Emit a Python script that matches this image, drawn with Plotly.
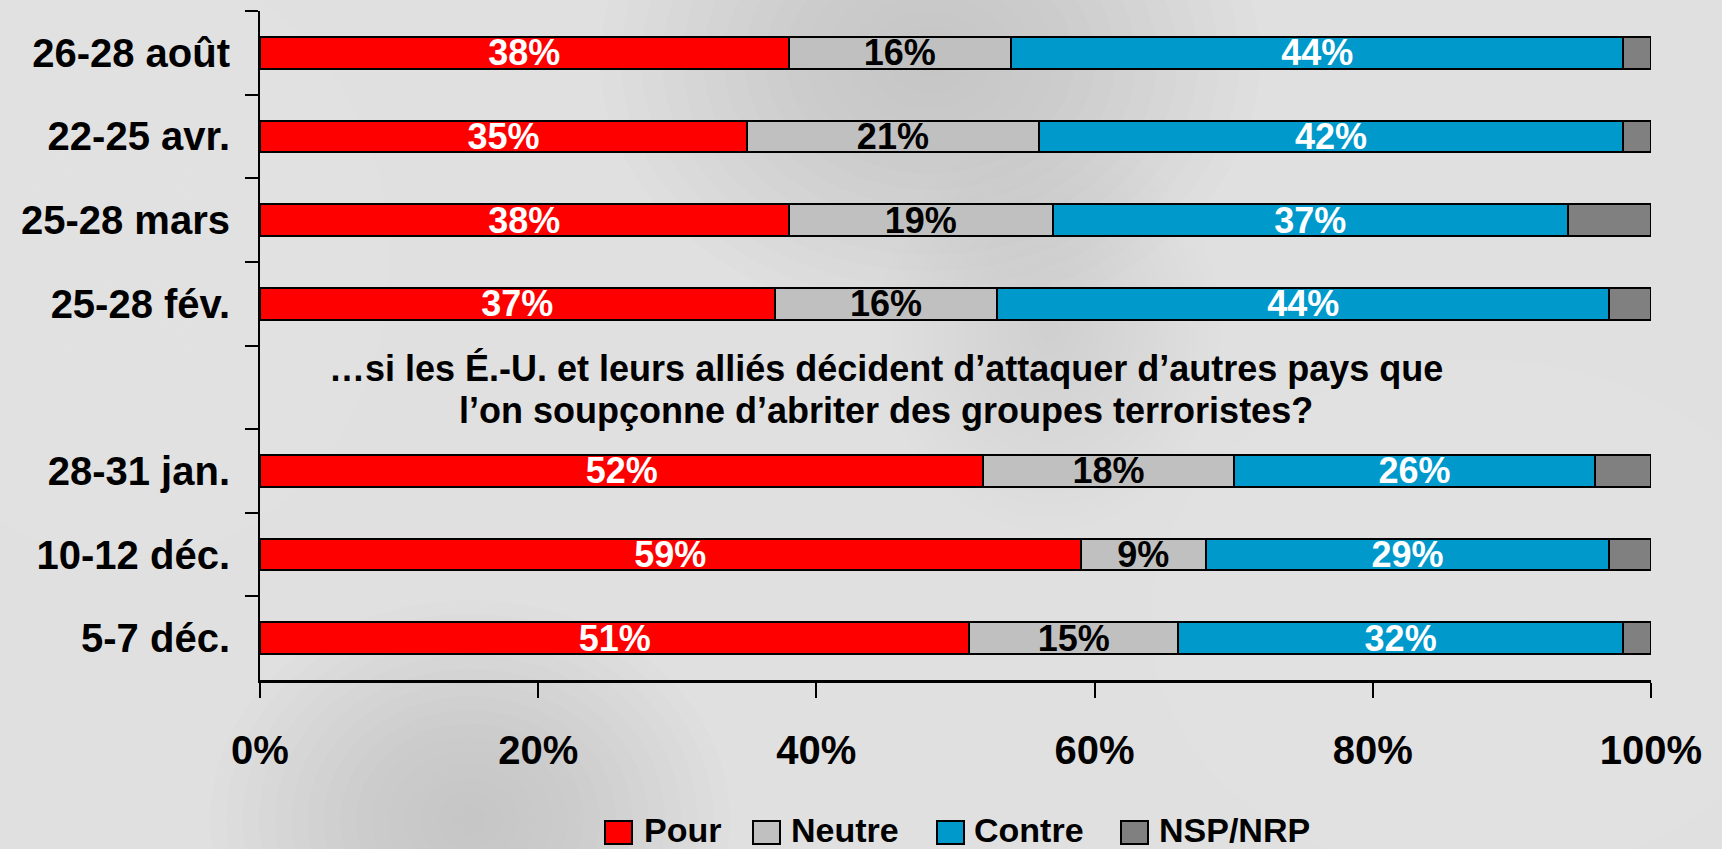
import plotly.graph_objects as go

# Survey waves, top to bottom (the blank row holds the question text)
periods = ["26-28 août", "22-25 avr.", "25-28 mars", "25-28 fév.", " ",
           "28-31 jan.", "10-12 déc.", "5-7 déc."]
pour = [38, 35, 38, 37, None, 52, 59, 51]
neutre = [16, 21, 19, 16, None, 18, 9, 15]
contre = [44, 42, 37, 44, None, 26, 29, 32]
nsp = [2, 2, 6, 3, None, 4, 3, 2]

series_names = ["Pour", "Neutre", "Contre", "NSP/NRP"]
series_values = [pour, neutre, contre, nsp]
series_colors = ["#FF0000", "#C0C0C0", "#0099CC", "#808080"]
label_colors = ["white", "black", "white", None]

x_ticks = [0, 20, 40, 60, 80, 100]
x_tick_text = ["0%", "20%", "40%", "60%", "80%", "100%"]

question_lines = [
    "…si les É.-U. et leurs alliés décident d’attaquer d’autres pays que",
    "l’on soupçonne d’abriter des groupes terroristes?",
]

FONT = "Liberation Sans, Arial, sans-serif"
W, H = 1722, 849
ML, MR, MT, MB = 260, 71, 11, 169

fig = go.Figure()
for name, vals, col, lcol in zip(series_names, series_values, series_colors, label_colors):
    text = [f"{v}%" if (v is not None and lcol) else "" for v in vals]
    fig.add_trace(go.Bar(
        y=periods, x=vals, orientation="h", name=name,
        marker=dict(color=col, line=dict(color="black", width=2)),
        text=text, textposition="inside", insidetextanchor="middle",
        textangle=0, constraintext="none",
        textfont=dict(family=FONT, size=36, color=lcol or "black", weight="bold"),
        showlegend=False, hoverinfo="skip",
    ))

# Question text sitting in the empty row between the two groups
for line, shift in zip(question_lines, [19, -23]):
    fig.add_annotation(
        x=45, y=" ", xref="x", yref="y", text=line, showarrow=False,
        yshift=shift, font=dict(family=FONT, size=36, color="black", weight="bold"),
    )

plot_w = W - ML - MR
plot_h = H - MT - MB


def px_to_paper_x(px):
    return (px - ML) / plot_w


def px_to_paper_y(py):
    return (H - MB - py) / plot_h


# Hand-drawn legend row below the axis
legend_boxes = [605, 753, 937, 1121]
legend_text_x = [642, 789, 972, 1157]
box_w, box_top, box_bot = 27, 821, 844
for name, col, bx, tx in zip(series_names, series_colors, legend_boxes, legend_text_x):
    fig.add_shape(
        type="rect", xref="paper", yref="paper",
        x0=px_to_paper_x(bx), x1=px_to_paper_x(bx + box_w),
        y0=px_to_paper_y(box_bot), y1=px_to_paper_y(box_top),
        fillcolor=col, line=dict(color="black", width=2),
    )
    fig.add_annotation(
        x=px_to_paper_x(tx), y=px_to_paper_y(830), xref="paper", yref="paper",
        xanchor="left", yanchor="middle", text=name, showarrow=False,
        font=dict(family=FONT, size=34, color="black", weight="bold"),
    )


# Soft swirls in the backdrop: stacked translucent ellipses fade at the edges
def soft_blob(cx, cy, rx, ry, rgb, alpha, steps=16):
    for i in range(steps):
        f = 1 - i / steps
        fig.add_shape(
            type="circle", xref="paper", yref="paper", layer="below",
            x0=px_to_paper_x(cx - rx * f), x1=px_to_paper_x(cx + rx * f),
            y0=px_to_paper_y(cy + ry * f), y1=px_to_paper_y(cy - ry * f),
            fillcolor=f"rgba({rgb},{alpha})", line=dict(width=0),
        )


soft_blob(930, 60, 330, 260, "175,175,175", 0.018)
soft_blob(1050, 330, 170, 200, "170,170,170", 0.014)
soft_blob(470, 820, 260, 220, "175,175,175", 0.018)
soft_blob(130, 260, 260, 300, "255,255,255", 0.03)
soft_blob(1480, 620, 330, 260, "255,255,255", 0.03)
soft_blob(700, 420, 260, 140, "255,255,255", 0.022)

fig.update_layout(
    width=W, height=H,
    margin=dict(l=ML, r=MR, t=MT, b=MB),
    barmode="stack", bargap=0.62,
    paper_bgcolor="#e0e0e0", plot_bgcolor="rgba(0,0,0,0)",
    showlegend=False,
    xaxis=dict(
        range=[0, 100], tickvals=x_ticks, ticktext=x_tick_text,
        showgrid=False, zeroline=False, showline=True, linecolor="black",
        linewidth=3, ticks="outside", ticklen=15, tickwidth=2, tickcolor="black",
        ticklabelstandoff=18,
        tickfont=dict(family=FONT, size=40, color="black", weight="bold"),
        fixedrange=True,
    ),
    yaxis=dict(
        autorange="reversed", type="category", categoryorder="array",
        categoryarray=periods, tickson="boundaries",
        showgrid=False, zeroline=False, showline=True, linecolor="black",
        linewidth=2, ticks="outside", ticklen=13, tickwidth=2, tickcolor="black",
        ticklabelstandoff=20,
        tickfont=dict(family=FONT, size=40, color="black", weight="bold"),
        fixedrange=True,
    ),
)

fig.write_html("out.html", config={"displayModeBar": False})
